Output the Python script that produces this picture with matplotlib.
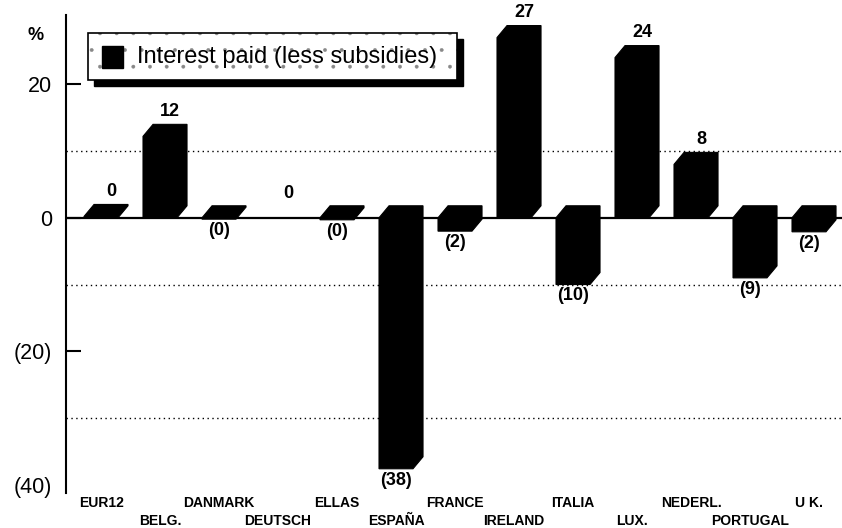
import matplotlib
matplotlib.use("Agg")
import matplotlib.pyplot as plt
from matplotlib.patches import Polygon, Rectangle

categories = ['EUR12', 'BELG.', 'DANMARK', 'DEUTSCH', 'ELLAS', 'ESPAÑA', 'FRANCE',
              'IRELAND', 'ITALIA', 'LUX.', 'NEDERL.', 'PORTUGAL', 'U K.']
values = [0.2, 12.2, -0.2, 0.0, -0.3, -37.6, -2.0, 27.0, -10.0, 24.0, 8.0, -9.0, -2.1]
ytick_vals = [20, 0, -20, -40]
grid_vals = [10, -10, -30]
legend_label = 'Interest paid (less subsidies)'

plt.rcParams['hatch.linewidth'] = 0.3

W, H = 842, 528
fig = plt.figure(figsize=(W / 100, H / 100), dpi=100)
ax_l, ax_r, ax_t, ax_b = 66, 842, 15, 493
ax = fig.add_axes([ax_l / W, 1 - ax_b / H, (ax_r - ax_l) / W, (ax_b - ax_t) / H])

narrow = ['Liberation Sans Narrow', 'Liberation Sans', 'DejaVu Sans']
sans = ['Liberation Sans', 'DejaVu Sans']

half = 0.288    # half width of the front face (category units)
dx, dy = 0.17, 1.8   # 3-D depth offset

for i, v in enumerate(values):
    lo, hi = min(0, v), max(0, v)
    if v != 0:
        x0, x1 = i - half, i + half
        poly = Polygon([(x0, lo), (x0, hi), (x0 + dx, hi + dy), (x1 + dx, hi + dy),
                        (x1 + dx, lo + dy), (x1, lo)], closed=True,
                       facecolor='black', edgecolor='black', lw=0.8, zorder=3)
        ax.add_patch(poly)
    r = int(round(abs(v)))
    if v >= 0:
        ax.annotate(f'{r}', (i + dx, hi + dy), xytext=(0, 3), textcoords='offset points',
                    ha='center', va='bottom', fontsize=13, fontweight='bold',
                    family=narrow, zorder=4)
    else:
        ax.annotate(f'({r})', (i, lo), xytext=(0, -2), textcoords='offset points',
                    ha='center', va='top', fontsize=13, fontweight='bold',
                    family=narrow, zorder=4)

ax.axhline(0, color='black', lw=1.6, zorder=2)
for g in grid_vals:
    ax.axhline(g, color='black', lw=1.0, ls=(0, (1, 2.5)), zorder=1)

ax.set_xlim((ax_l - 101) / 59, (ax_r - 101) / 59)
ax.set_ylim(-(ax_b - 217.8) / 6.675, (217.8 - ax_t) / 6.675)

for s in ['top', 'right', 'bottom']:
    ax.spines[s].set_visible(False)
ax.spines['left'].set_linewidth(1.5)

ax.set_yticks(ytick_vals)
ax.set_yticklabels([f'{v}' if v >= 0 else f'({-v})' for v in ytick_vals],
                   fontsize=15.5, family=sans)
ax.tick_params(axis='y', direction='in', length=11, width=1.5, pad=10)
ax.yaxis.get_major_ticks()[-1].tick1line.set_visible(False)

even = list(range(0, len(categories), 2))
odd = list(range(1, len(categories), 2))
ax.set_xticks(even)
ax.set_xticklabels([categories[i] for i in even], fontsize=10, fontweight='bold',
                   family=narrow)
ax.set_xticks(odd, minor=True)
ax.set_xticklabels([categories[i] for i in odd], minor=True, fontsize=10,
                   fontweight='bold', family=narrow)
ax.tick_params(axis='x', which='major', length=0, pad=2)
ax.tick_params(axis='x', which='minor', length=0, pad=15)

fig.text(28 / W, 1 - 35 / H, '%', fontsize=13, fontweight='bold', family=sans,
         ha='left', va='center')

# legend box with shadow and dotted fill
bx0, bx1, by0, by1 = 88, 457, 33, 80
fig.patches.append(Rectangle(((bx0 + 6) / W, 1 - (by1 + 6) / H), (bx1 - bx0) / W,
                             (by1 - by0) / H, transform=fig.transFigure,
                             facecolor='black', edgecolor='black', zorder=5))
fig.patches.append(Rectangle((bx0 / W, 1 - by1 / H), (bx1 - bx0) / W, (by1 - by0) / H,
                             transform=fig.transFigure, facecolor='white',
                             edgecolor='#888888', lw=0, hatch='.', zorder=6))
fig.patches.append(Rectangle((bx0 / W, 1 - by1 / H), (bx1 - bx0) / W, (by1 - by0) / H,
                             transform=fig.transFigure, facecolor='none',
                             edgecolor='black', lw=1.2, zorder=6.5))
fig.patches.append(Rectangle((102 / W, 1 - 68 / H), 21 / W, 22 / H,
                             transform=fig.transFigure, facecolor='black',
                             edgecolor='black', zorder=7))
fig.text(137 / W, 1 - 57 / H, legend_label, fontsize=17, family=sans,
         ha='left', va='center', zorder=8)

fig.savefig('out.png', dpi=100)
